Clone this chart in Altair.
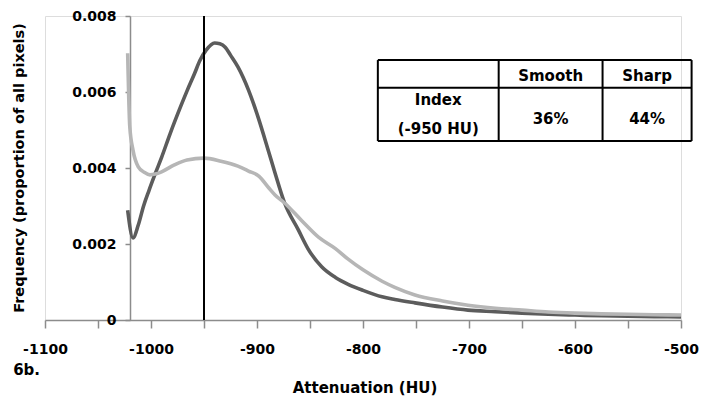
import altair as alt
import pandas as pd

# ---- data ----
smooth_hu = [-1022, -1017, -1012, -1007, -1002, -996, -990, -982, -972, -966, -959, -954,
             -948, -940, -935, -930, -925, -918, -908, -899, -889, -883, -874, -861, -852,
             -839, -826, -814, -800, -782, -770, -751, -725, -701, -675, -650, -625, -600,
             -575, -550, -525, -500]
smooth_freq = [0.00289, 0.00216, 0.0025, 0.003, 0.0034, 0.00385, 0.00428, 0.0049, 0.00562,
               0.00603, 0.00648, 0.00682, 0.0071, 0.00729, 0.00727, 0.00718, 0.00697, 0.00666,
               0.00605, 0.00534, 0.00443, 0.00387, 0.00308, 0.00237, 0.00188, 0.0014, 0.00112,
               0.00094, 0.00078, 0.00061, 0.00054, 0.00045, 0.00034, 0.00026, 0.00022, 0.00018,
               0.00015, 0.00013, 0.00011, 0.0001, 0.00009, 0.00008]

sharp_hu = [-1022, -1020, -1017, -1012, -1006, -1001, -996, -990, -978, -966, -950, -934,
            -918, -908, -898, -889, -883, -874, -858, -842, -826, -814, -800, -782, -770,
            -751, -725, -701, -675, -650, -625, -600, -575, -550, -525, -500]
sharp_freq = [0.00702, 0.00508, 0.00447, 0.00403, 0.00388, 0.00382, 0.00384, 0.0039, 0.00408,
              0.00421, 0.00426, 0.00418, 0.00405, 0.00392, 0.00378, 0.00348, 0.00329, 0.00308,
              0.00262, 0.00218, 0.00188, 0.0016, 0.00132, 0.00102, 0.00086, 0.00066, 0.0005,
              0.00039, 0.00031, 0.00026, 0.00021, 0.00018, 0.00016, 0.00015, 0.00014, 0.00013]

x_ticks = list(range(-1100, -499, 50))
y_ticks = [0, 0.002, 0.004, 0.006, 0.008]
index_hu = -950

# annotation table (in data units)
table_col_edges = [-786, -672, -574, -490]
table_row_edges = [0.00684, 0.00611, 0.00471]
table_header = ["Smooth", "Sharp"]
table_row_label = ["Index", "(-950 HU)"]
table_values = ["36%", "44%"]

FONT = "DejaVu Sans"

df = pd.DataFrame(
    {"hu": smooth_hu + sharp_hu,
     "freq": smooth_freq + sharp_freq,
     "kernel": ["Smooth"] * len(smooth_hu) + ["Sharp"] * len(sharp_hu)}
)

xscale = alt.Scale(domain=[-1100, -500], nice=False, zero=False)
yscale = alt.Scale(domain=[0, 0.008], nice=False)

lines = alt.Chart(df).mark_line(strokeWidth=3.6, interpolate="monotone").encode(
    x=alt.X("hu:Q", scale=xscale,
            axis=alt.Axis(values=x_ticks, title=None, grid=False,
                          labelExpr="datum.value % 100 == 0 ? '' + datum.value : ''",
                          labelFont=FONT, labelFontWeight="bold", labelFontSize=14,
                          labelColor="black", domainColor="#8c8c8c", domainWidth=1.5,
                          tickColor="#8c8c8c", tickWidth=1.5, tickSize=8, labelPadding=14,
                          labelFlush=False, labelOverlap=False)),
    y=alt.Y("freq:Q", scale=yscale,
            axis=alt.Axis(values=y_ticks, title=None, grid=False, offset=-85,
                          labelExpr="datum.value == 0 ? '0' : format(datum.value, '.3f')",
                          labelFont=FONT, labelFontWeight="bold", labelFontSize=14,
                          labelColor="black", domainColor="#8c8c8c", domainWidth=1.5,
                          tickColor="#8c8c8c", tickWidth=1.5, tickSize=5, labelPadding=9)),
    color=alt.Color("kernel:N", scale=alt.Scale(domain=["Smooth", "Sharp"],
                                                range=["#5c5c5c", "#b6b6b6"]), legend=None),
    order=alt.Order("hu:Q"),
)

vline = alt.Chart(pd.DataFrame({"x": [index_hu], "y": [0], "y2": [0.008]})).mark_rule(
    color="black", strokeWidth=2).encode(x="x:Q", y="y:Q", y2="y2:Q")

# table borders
vrules = pd.DataFrame({"x": table_col_edges,
                       "y": [table_row_edges[0]] * len(table_col_edges),
                       "y2": [table_row_edges[-1]] * len(table_col_edges)})
hrules = pd.DataFrame({"y": table_row_edges,
                       "x": [table_col_edges[0]] * len(table_row_edges),
                       "x2": [table_col_edges[-1]] * len(table_row_edges)})
tv = alt.Chart(vrules).mark_rule(color="black", strokeWidth=2).encode(x="x:Q", y="y:Q", y2="y2:Q")
th = alt.Chart(hrules).mark_rule(color="black", strokeWidth=2).encode(y="y:Q", x="x:Q", x2="x2:Q")

mid = lambda a, b: (a + b) / 2
col_c = [mid(table_col_edges[i], table_col_edges[i + 1]) for i in range(3)]
row_c = [mid(table_row_edges[i], table_row_edges[i + 1]) for i in range(2)]

def cell_layer(xs, ys, texts, dy, size=15):
    d = pd.DataFrame({"x": xs, "y": ys, "t": texts})
    return alt.Chart(d).mark_text(font=FONT, fontWeight="bold", fontSize=size,
                                  color="black", dy=dy).encode(x="x:Q", y="y:Q", text="t:N")

header = cell_layer(col_c[1:], [row_c[0]] * 2, table_header, 2)
values = cell_layer(col_c[1:], [row_c[1]] * 2, table_values, 5)
idx1 = cell_layer([col_c[0]], [row_c[1]], table_row_label[:1], -14)
idx2 = cell_layer([col_c[0]], [row_c[1]], table_row_label[1:], 15)

xtitle = alt.Chart(pd.DataFrame({"t": ["Attenuation (HU)"]})).mark_text(
    font=FONT, fontWeight="bold", fontSize=15, color="black").encode(
    x=alt.value(320), y=alt.value(372), text="t:N")
ytitle = alt.Chart(pd.DataFrame({"t": ["Frequency (proportion of all pixels)"]})).mark_text(
    font=FONT, fontWeight="bold", fontSize=14.5, color="black", angle=270).encode(
    x=alt.value(-25), y=alt.value(152), text="t:N")
fig = alt.Chart(pd.DataFrame({"t": ["6b."]})).mark_text(
    font=FONT, fontWeight="bold", fontSize=15, color="black", align="right").encode(
    x=alt.value(-5), y=alt.value(354), text="t:N")

chart = alt.layer(lines, vline, tv, th, header, values, idx1, idx2,
                  xtitle, ytitle, fig).properties(
    width=636, height=304,
    autosize=alt.AutoSizeParams(type="none"),
    padding={"left": 37, "top": 8, "right": 19, "bottom": 78},
).configure_view(stroke=None).configure(background="white")

chart.save("out.html", embed_options={"renderer": "svg", "actions": False})
